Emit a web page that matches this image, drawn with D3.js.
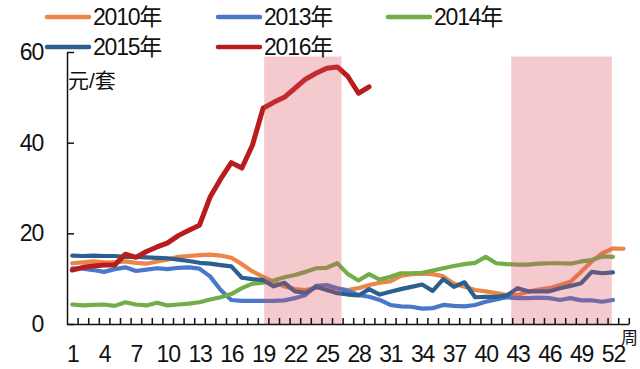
<!DOCTYPE html>
<meta charset="utf-8">
<script src="https://d3js.org/d3.v7.min.js"></script>
<style>
  body { margin: 0; background: #fff; }
  text { font-family: "Liberation Sans", Arial, "Noto Sans CJK SC", sans-serif; fill: #111; }
</style>
<svg id="chart" width="640" height="369"></svg>
<script>
// weekly values, 元/套
var years = ["2010年", "2013年", "2014年", "2015年", "2016年"];
var colors = ["#EB8548", "#4A78C8", "#72AD4A", "#2B5F8F", "#B81C1C"];

var v2010 = [13.4, 13.6, 13.8, 13.6, 13.6, 13.8, 13.5, 13.3, 13.8, 14.2, 14.8, 15.0, 15.2, 15.3, 15.1, 14.6, 13.2, 11.6, 10.4, 9.3,
             8.3, 7.7, 7.5, 8.0, 8.2, 7.8, 7.5, 7.9, 8.6, 9.1, 9.4, 10.6, 11.0, 11.1, 11.0, 10.5, 8.9, 8.2, 7.5, 7.2,
             6.8, 6.4, 6.4, 7.1, 7.6, 7.9, 8.6, 9.3, 11.5, 13.8, 15.6, 16.7, 16.6];
var v2013 = [12.3, 12.2, 11.9, 11.5, 12.1, 12.5, 11.7, 12.0, 12.3, 12.1, 12.4, 12.5, 12.2, 10.5, 7.5, 5.3, 5.1, 5.1, 5.1, 5.1,
             5.2, 5.7, 6.4, 8.4, 8.6, 7.9, 7.3, 6.4, 6.0, 5.3, 4.2, 3.9, 3.8, 3.4, 3.5, 4.2, 4.0, 3.9, 4.2, 4.9,
             5.4, 5.9, 5.7, 5.7, 5.8, 5.7, 5.3, 5.7, 5.2, 5.2, 4.9, 5.3];
var v2014 = [4.3, 4.1, 4.2, 4.3, 4.0, 4.8, 4.3, 4.1, 4.7, 4.1, 4.3, 4.5, 4.8, 5.4, 5.9, 6.6, 7.9, 8.9, 9.1, 9.6,
             10.3, 10.8, 11.5, 12.3, 12.4, 13.4, 11.0, 9.6, 11.0, 9.8, 10.4, 11.2, 11.2, 11.3, 11.8, 12.3, 12.8, 13.2, 13.5, 14.8,
             13.4, 13.2, 13.1, 13.1, 13.3, 13.4, 13.4, 13.3, 13.8, 14.1, 14.9, 14.8];
var v2015 = [15.1, 15.0, 15.1, 15.0, 15.0, 14.8, 14.8, 14.7, 14.6, 14.5, 14.2, 13.9, 13.5, 13.3, 13.0, 12.7, 10.2, 9.9, 9.7, 8.3,
             9.1, 7.2, 6.9, 8.2, 7.5, 6.8, 6.5, 6.3, 7.7, 6.5, 7.1, 7.7, 8.2, 8.7, 7.3, 9.9, 8.2, 9.2, 5.9, 6.0,
             6.0, 6.3, 7.9, 7.2, 7.2, 7.2, 7.9, 8.4, 9.0, 11.5, 11.2, 11.4];
var v2016 = [11.9, 12.5, 12.8, 13.0, 13.0, 15.4, 14.7, 16.0, 17.0, 17.9, 19.5, 20.7, 21.8, 28.0, 32.0, 35.6, 34.4, 39.5, 47.6, 48.9,
             50.0, 52.0, 54.0, 55.3, 56.4, 56.7, 54.6, 50.9, 52.3];
var series = [v2010, v2013, v2014, v2015, v2016];

// shaded weeks
var shadeStart = [19.1, 42.4];
var shadeEnd = [26.4, 51.9];
var shadeTop = 59;

var weekLabels = [1, 4, 7, 10, 13, 16, 19, 22, 25, 28, 31, 34, 37, 40, 43, 46, 49, 52];
var yTicks = [0, 20, 40, 60];
var nWeeks = 53;

var svg = d3.select("#chart");

var x = d3.scaleLinear().domain([0.5, nWeeks + 0.5]).range([67, 628.8]);
var y = d3.scaleLinear().domain([0, 60]).range([324, 52]);

var line = d3.line()
    .x(function(d, i) { return x(i + 1); })
    .y(function(d) { return y(d); });

// lines
svg.append("g")
  .selectAll("path")
  .data(series)
  .enter().append("path")
    .attr("d", line)
    .attr("fill", "none")
    .attr("stroke", function(d, i) { return colors[i]; })
    .attr("stroke-width", function(d, i) { return i == 4 ? 5 : 4.2; })
    .attr("stroke-linejoin", "round")
    .attr("stroke-linecap", "round");

// shaded periods, laid over the lines
svg.append("g")
  .selectAll("rect")
  .data(shadeStart)
  .enter().append("rect")
    .attr("x", function(d) { return x(d); })
    .attr("width", function(d, i) { return x(shadeEnd[i]) - x(d); })
    .attr("y", y(shadeTop))
    .attr("height", y(0) - y(shadeTop))
    .attr("fill", "rgb(222,80,95)")
    .attr("fill-opacity", 0.3);

// y axis
var yAxis = svg.append("g")
    .attr("transform", "translate(" + x(0.5) + ",0)")
    .call(d3.axisLeft(y).tickValues(yTicks).tickSize(-7).tickPadding(24).tickSizeOuter(0));
yAxis.select(".domain").attr("stroke", "#111").attr("stroke-width", 1.5);
yAxis.selectAll(".tick line").attr("stroke", "#111").attr("stroke-width", 1.5);
yAxis.selectAll("text").style("font-size", "23px").style("letter-spacing", "-1.2px").attr("fill", "#111");

// x axis: boundary ticks
var xTickAxis = svg.append("g")
    .attr("transform", "translate(0," + y(0) + ")")
    .call(d3.axisBottom(x).tickValues(d3.range(1.5, nWeeks + 1, 1)).tickSize(-6).tickSizeOuter(0).tickFormat(""));
xTickAxis.select(".domain").attr("stroke", "#111").attr("stroke-width", 1.5);
xTickAxis.selectAll(".tick line").attr("stroke", "#111").attr("stroke-width", 1.5);

// x axis: week labels
var xLabelAxis = svg.append("g")
    .attr("transform", "translate(0," + y(0) + ")")
    .call(d3.axisBottom(x).tickValues(weekLabels).tickSize(0).tickPadding(22));
xLabelAxis.select(".domain").remove();
xLabelAxis.selectAll("text").style("font-size", "23px").style("letter-spacing", "-1.2px").attr("fill", "#111");

// units
svg.append("text")
    .attr("x", 68)
    .attr("y", 88)
    .style("font-size", "21px")
    .text("元/套");
svg.append("text")
    .attr("x", 621)
    .attr("y", 344)
    .style("font-size", "17px")
    .text("周");

// legend
var legendX = [47, 218, 388, 47, 218];
var legendY = [17, 17, 17, 47, 47];
var legend = svg.append("g")
  .selectAll("g")
  .data(years)
  .enter().append("g")
    .attr("transform", function(d, i) { return "translate(" + legendX[i] + "," + legendY[i] + ")"; });
legend.append("line")
    .attr("x1", 0).attr("x2", 42)
    .attr("stroke", function(d, i) { return colors[i]; })
    .attr("stroke-width", 4.5)
    .attr("stroke-linecap", "round");
legend.append("text")
    .attr("x", 46)
    .attr("dy", "0.36em")
    .style("font-size", "23px")
    .style("letter-spacing", "-1.2px")
    .text(function(d) { return d; });
</script>
